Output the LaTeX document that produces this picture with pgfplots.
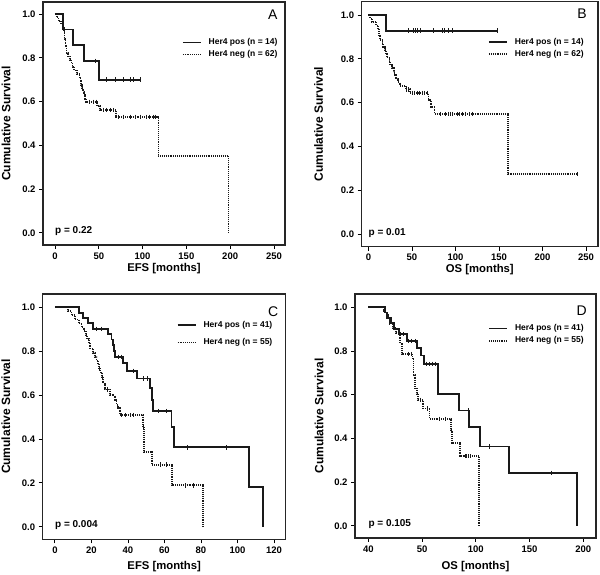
\documentclass[border=0pt]{standalone}
\usepackage{fontspec}
\setmainfont{Liberation Sans}
\usepackage{pgfplots}
\pgfplotsset{compat=1.18}

\pgfplotsset{
  km/.style={
    scale only axis, anchor=south west,
    axis line style={line width=1.4pt, black!85},
    tick align=outside, xtick pos=bottom, ytick pos=left,
    major tick length=4pt, tick style={line width=0.9pt, black},
    ytick={0,0.2,0.4,0.6,0.8,1.0},
    yticklabels={0.0,0.2,0.4,0.6,0.8,1.0},
    ticklabel style={font=\fontsize{9.5}{11}\selectfont\bfseries},
    xlabel style={font=\fontsize{11.3}{13}\selectfont\bfseries, anchor=center},
    ylabel style={font=\fontsize{12}{14}\selectfont\bfseries, anchor=center},
    /pgf/number format/assume math mode=true,
    legend cell align=left,
    legend style={draw=none, fill=none, anchor=north west, inner xsep=0pt, inner ysep=0pt,
      nodes={inner sep=0pt, text depth=0.2em},
      font=\fontsize{8.5}{10}\selectfont\bfseries, row sep=4pt,
      /tikz/every odd column/.append style={column sep=7pt}},
    legend image code/.code={\draw[##1] (0pt,0pt) -- (18pt,0pt);},
  },
  pos/.style={const plot, black!90, line width=1.8pt},
  neg/.style={const plot, black!90, line width=1.7pt, dash pattern=on 1pt off 0.9pt},
  cens/.style={only marks, mark=|, mark size=2.2pt, mark options={line width=0.7pt, solid}, black!90, forget plot},
}

\begin{document}
\begin{tikzpicture}
\path[use as bounding box] (0pt,0pt) rectangle (600pt,575pt);

% ---------------- Panel A ----------------
\begin{axis}[km, at={(43pt,330pt)}, width=242pt, height=243pt,
  xmin=-13.7, xmax=262.6, ymin=-0.056, ymax=1.055,
  xtick={0,50,100,150,200,250},
  xlabel={EFS [months]}, ylabel={Cumulative Survival},
  xlabel style={at={(axis description cs:0.5,-0.099)}},
  ylabel style={at={(axis description cs:-0.153,0.5)}},
  legend style={at={(axis description cs:0.573,0.851)}, row sep=4pt}]
\addplot[pos] coordinates {(0,1) (9.5,0.929) (21,0.857) (33.5,0.786) (50,0.70) (97,0.70)};
\addlegendentry{Her4 pos (n = 14)}
\addplot[neg] coordinates {(0,1) (2,0.984) (4,0.968) (7,0.952) (9,0.935) (10,0.919) (11,0.887)
  (12,0.855) (13,0.823) (15,0.806) (17,0.790) (19,0.774) (20,0.758) (22,0.742) (25,0.726)
  (28,0.710) (29,0.694) (30,0.677) (31,0.661) (32,0.645) (33,0.629) (34,0.613) (35,0.599)
  (48.3,0.579) (51.4,0.561) (69.6,0.53) (118,0.351) (198,0)};
\addlegendentry{Her4 neg (n = 62)}
\addplot[cens] coordinates {(46.5,0.786) (59,0.70) (68.5,0.70) (78,0.70) (85.6,0.70) (89.4,0.70) (97,0.70)};
\addplot[cens] coordinates {(39,0.599) (43.7,0.599) (46.8,0.599) (55,0.561) (59,0.561) (62.8,0.561) (66.6,0.561)
  (72,0.53) (78,0.53) (86,0.53) (92,0.53) (98,0.53) (104,0.53) (108,0.53) (112,0.53) (115,0.53)};
\node[font=\fontsize{14}{16}\selectfont] at (rel axis cs:0.95,0.946) {A};
\node[anchor=west, inner sep=0pt, font=\fontsize{10}{12}\selectfont\bfseries] at (axis cs:0,0.007) {p = 0.22};
\end{axis}

% ---------------- Panel B ----------------
\begin{axis}[km, at={(361.7pt,328.3pt)}, width=236.3pt, height=245pt,
  xmin=-7.8, xmax=263.8, ymin=-0.057, ymax=1.061,
  xtick={0,50,100,150,200,250},
  xlabel={OS [months]}, ylabel={Cumulative Survival},
  xlabel style={at={(axis description cs:0.5,-0.095)}},
  ylabel style={at={(axis description cs:-0.182,0.5)}},
  legend style={at={(axis description cs:0.534,0.853)}, row sep=4pt}]
\addplot[pos] coordinates {(0,1) (20.4,0.929) (148,0.929)};
\addlegendentry{Her4 pos (n = 14)}
\addplot[neg] coordinates {(0,1) (2,0.984) (4,0.968) (9,0.952) (11,0.935) (12,0.903) (13,0.887)
  (16,0.871) (17,0.855) (19,0.839) (20,0.823) (21,0.806) (24,0.790) (25,0.774) (27,0.758)
  (29,0.742) (30,0.726) (32,0.710) (34,0.694) (36,0.677) (43,0.661) (48,0.645) (69,0.613)
  (72,0.58) (76,0.548) (160,0.274) (240,0.274)};
\addlegendentry{Her4 neg (n = 62)}
\addplot[cens] coordinates {(46.2,0.929) (51.2,0.929) (53.8,0.929) (56.5,0.929) (59.6,0.929) (75,0.929)
  (84.6,0.929) (87.3,0.929) (92.3,0.929) (96.2,0.929) (148,0.929)};
\addplot[cens] coordinates {(44,0.661) (46,0.661) (50,0.645) (52.7,0.645) (55.8,0.645) (58.8,0.645) (61.5,0.645)
  (64,0.645) (67.3,0.645) (82.7,0.548) (88.5,0.548) (92.3,0.548) (94.2,0.548) (96.2,0.548) (102,0.548)
  (105,0.548) (107.7,0.548) (111.5,0.548) (115.4,0.548) (119.2,0.548) (240,0.274)};
\node[font=\fontsize{14}{16}\selectfont] at (rel axis cs:0.932,0.95) {B};
\node[anchor=west, inner sep=0pt, font=\fontsize{10}{12}\selectfont\bfseries] at (axis cs:0,0.005) {p = 0.01};
\end{axis}

% ---------------- Panel C ----------------
\begin{axis}[km, at={(42.7pt,35.7pt)}, width=243pt, height=245.3pt,
  xmin=-6.7, xmax=126.4, ymin=-0.057, ymax=1.061,
  xtick={0,20,40,60,80,100,120},
  xlabel={EFS [months]}, ylabel={Cumulative Survival},
  xlabel style={at={(axis description cs:0.5,-0.112)}},
  ylabel style={at={(axis description cs:-0.152,0.5)}},
  legend style={at={(axis description cs:0.551,0.89)}, row sep=9pt}]
\addplot[pos] coordinates {(0,1) (13,0.976) (15.5,0.951) (18.3,0.927) (21,0.902) (29.2,0.878)
  (31,0.854) (32,0.829) (32.5,0.80) (32.9,0.775) (37.4,0.748) (39.3,0.711) (45.1,0.676)
  (52,0.631) (53,0.578) (53.9,0.527) (63.9,0.453) (65.2,0.362) (106.5,0.181) (114,0)};
\addlegendentry{Her4 pos (n = 41)}
\addplot[neg] coordinates {(0,1) (7.3,0.982) (9,0.964) (11,0.945) (13,0.927) (14.6,0.909) (16,0.891)
  (17,0.873) (17.7,0.855) (18.5,0.836) (19.2,0.813) (21,0.792) (22,0.774) (22.8,0.757) (23.5,0.740)
  (24.1,0.722) (25,0.703) (25.6,0.684) (26.5,0.653) (27.4,0.626) (30.1,0.600) (32.9,0.578)
  (33.8,0.555) (34.7,0.540) (35.6,0.509) (48.4,0.453) (48.8,0.34) (53,0.283) (64,0.189) (81,0)};
\addlegendentry{Her4 neg (n = 55)}
\addplot[cens] coordinates {(22.8,0.902) (25.6,0.902) (34.7,0.775) (36.5,0.775) (42.9,0.711) (48.4,0.676) (50.6,0.676)
  (56.6,0.527) (61.2,0.527) (72.7,0.362) (93.7,0.362)};
\addplot[cens] coordinates {(24.5,0.722) (26,0.684) (28.5,0.626) (36.5,0.509) (38.4,0.509) (41.1,0.509)
  (42.9,0.509) (48.6,0.453) (57.5,0.283) (61.2,0.283) (71.2,0.189) (75.8,0.189)};
\node[font=\fontsize{14}{16}\selectfont] at (rel axis cs:0.948,0.928) {C};
\node[anchor=west, inner sep=0pt, font=\fontsize{10}{12}\selectfont\bfseries] at (axis cs:0,0.008) {p = 0.004};
\end{axis}

% ---------------- Panel D ----------------
\begin{axis}[km, at={(355pt,37pt)}, width=241pt, height=244pt,
  xmin=-12.4, xmax=211.8, ymin=-0.056, ymax=1.061,
  xtick={0,50,100,150,200}, xticklabels={40,50,100,150,200},
  xlabel={OS [months]}, ylabel={Cumulative Survival},
  xlabel style={at={(axis description cs:0.5,-0.118)}},
  ylabel style={at={(axis description cs:-0.149,0.5)}},
  legend style={at={(axis description cs:0.552,0.876)}, row sep=4pt}]
\addplot[pos] coordinates {(0,1) (15.5,0.976) (17.7,0.951) (20.8,0.927) (24.2,0.902) (28.8,0.878)
  (36.3,0.845) (45,0.812) (48.7,0.779) (51.8,0.741) (65.1,0.603) (84.6,0.528) (94,0.453)
  (104,0.363) (131,0.242) (194,0)};
\addlegendentry{Her4 pos (n = 41)}
\addplot[neg] coordinates {(0,1) (14,0.982) (17,0.965) (18.5,0.947) (20,0.929) (23,0.904) (26,0.882)
  (29,0.861) (29.5,0.835) (31,0.786) (41.2,0.766) (41.9,0.69) (43.4,0.629) (45,0.603) (46.5,0.576)
  (51,0.537) (57,0.49) (77,0.438) (78,0.38) (85,0.318) (103,0)};
\addlegendentry{Her4 neg (n = 55)}
\addplot[cens] coordinates {(29.5,0.878) (32.5,0.878) (37,0.845) (40,0.845) (43.4,0.845) (54,0.741) (57,0.741)
  (60,0.741) (62,0.741) (93,0.528) (112.5,0.363) (170.5,0.242)};
\addplot[cens] coordinates {(20,0.929) (24,0.904) (37,0.786) (40,0.786) (48,0.576) (55,0.537) (66,0.49) (72,0.49)
  (90,0.318) (91.5,0.318) (93,0.318) (95,0.318)};
\node[font=\fontsize{14}{16}\selectfont] at (rel axis cs:0.941,0.932) {D};
\node[anchor=west, inner sep=0pt, font=\fontsize{10}{12}\selectfont\bfseries] at (axis cs:0,0.008) {p = 0.105};
\end{axis}
\end{tikzpicture}
\end{document}
